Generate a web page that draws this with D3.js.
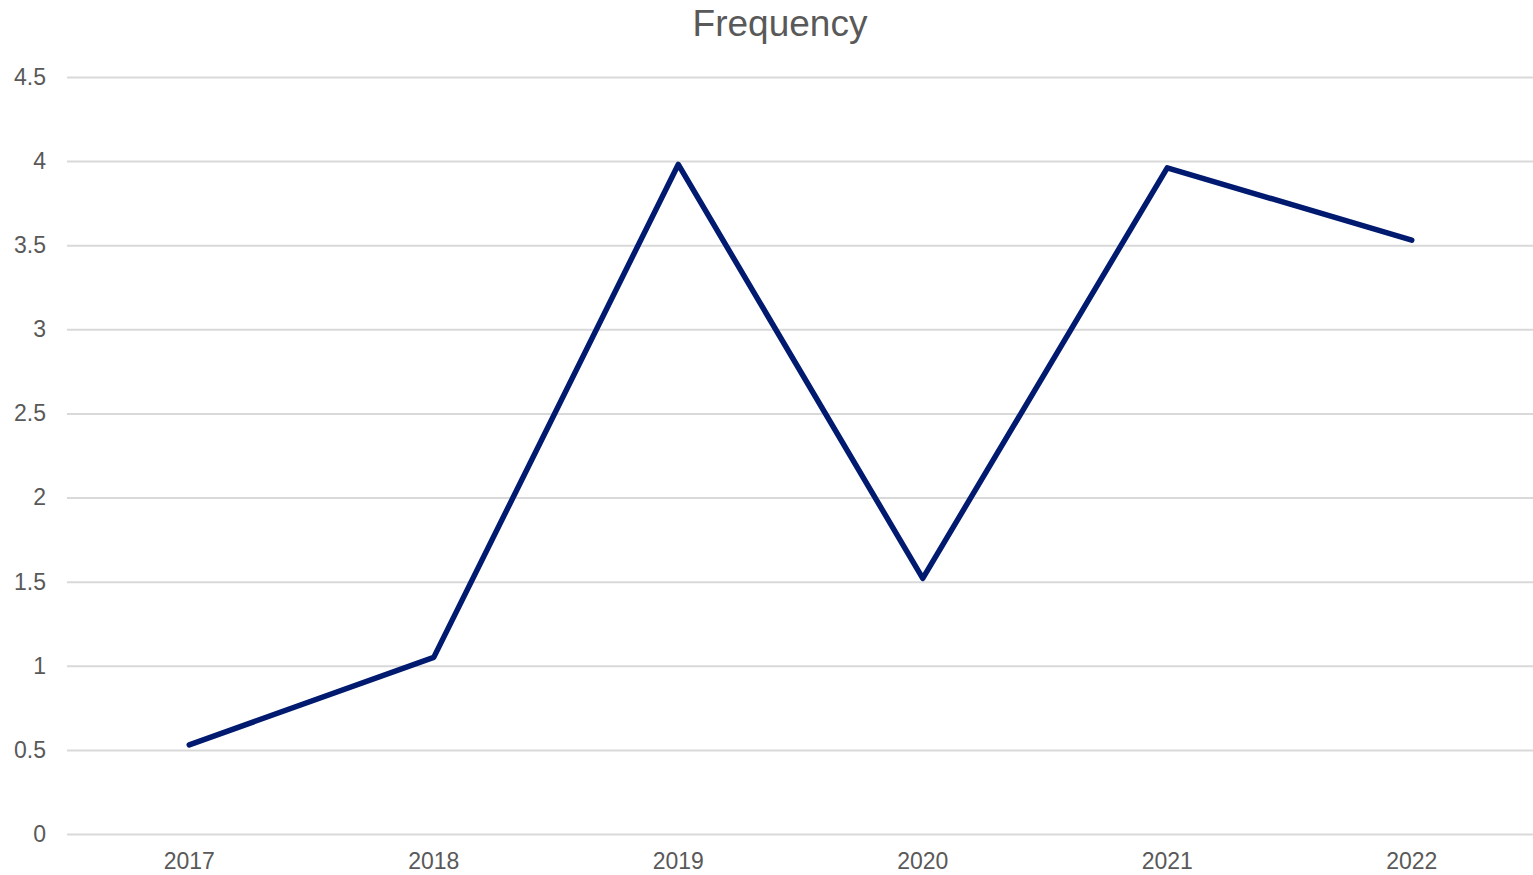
<!DOCTYPE html>
<html><head><meta charset="utf-8">
<script src="https://cdn.jsdelivr.net/npm/d3@7"></script>
<style>html,body{margin:0;padding:0;background:#fff;}svg{display:block;}</style>
</head><body>
<script>
const categories = ["2017","2018","2019","2020","2021","2022"];
const values = [0.53, 1.05, 3.98, 1.52, 3.96, 3.53];
const yTicks = [0, 0.5, 1, 1.5, 2, 2.5, 3, 3.5, 4, 4.5];
const title = "Frequency";

const W = 1533, H = 875;
const m = {left: 67, right: 0, top: 77, bottom: 41};
const svg = d3.select("body").append("svg").attr("width", W).attr("height", H);
const x = d3.scaleBand().domain(categories).range([m.left, W - m.right + 1]);
const y = d3.scaleLinear().domain([0, 4.5]).range([H - m.bottom, m.top]);
const font = "'Liberation Sans', Arial, sans-serif";

svg.append("text").attr("x", 780).attr("y", 36).attr("text-anchor", "middle")
  .attr("font-family", font).attr("font-size", 37).attr("fill", "#595959").text(title);

const yAxis = svg.append("g").attr("transform", `translate(${m.left},0)`)
  .call(d3.axisLeft(y).tickValues(yTicks).tickSize(-(W - m.left)).tickPadding(21).tickFormat(d => String(d)));
yAxis.select(".domain").remove();
yAxis.selectAll(".tick line").attr("stroke", "#d9d9d9").attr("stroke-width", 2);
yAxis.selectAll(".tick text").attr("font-family", font).attr("font-size", 23).attr("fill", "#595959");

const xAxis = svg.append("g").attr("transform", `translate(0,${y(0)})`)
  .call(d3.axisBottom(x).tickSize(0).tickPadding(19));
xAxis.select(".domain").remove();
xAxis.selectAll(".tick text").attr("font-family", font).attr("font-size", 23).attr("fill", "#595959");

const line = d3.line().x((d, i) => x(categories[i]) + x.bandwidth() / 2).y(d => y(d));
svg.append("path").datum(values).attr("d", line).attr("fill", "none")
  .attr("stroke", "#001a70").attr("stroke-width", 5.5).attr("stroke-linecap", "round").attr("stroke-linejoin", "round");
</script>
</body></html>
